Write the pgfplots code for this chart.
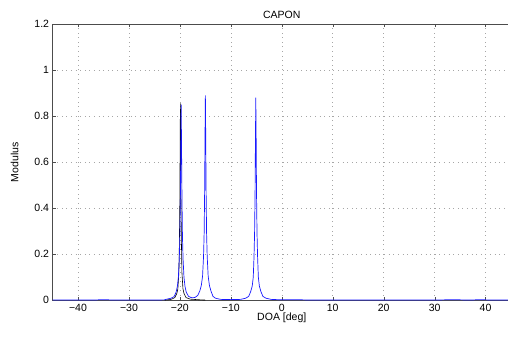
\documentclass[border=0pt]{standalone}
\usepackage{fontspec}
\setmainfont{Liberation Sans}
\usepackage{pgfplots}
\pgfplotsset{compat=1.18}
\usetikzlibrary{calc}
\begin{document}
\begin{tikzpicture}
\begin{axis}[
  name=ax,
  scale only axis,
  width=458bp, height=276bp,
  xmin=-45, xmax=45, ymin=0, ymax=1.2,
  xtick={-40,-30,-20,-10,0,10,20,30,40},
  xticklabels={−40,−30,−20,−10,0,10,20,30,40},
  ytick={0,0.2,0.4,0.6,0.8,1,1.2},
  yticklabels={0,0.2,0.4,0.6,0.8,1,1.2},
  tick align=inside,
  tick pos=both,
  major tick length=3bp,
  grid=major,
  grid style={dash pattern=on 0.6bp off 4bp, gray!70, line width=0.5pt},
  axis line style={black!70, line width=0.5pt},
  tick style={black!70},
  title={CAPON},
  title style={yshift=-4bp},
  xlabel={DOA [deg]},
  ylabel={Modulus},
  xlabel style={yshift=5bp},
  ylabel style={yshift=9bp},
  ticklabel style={font=\fontsize{10.5bp}{12bp}\selectfont},
  label style={font=\fontsize{10.5bp}{12bp}\selectfont},
  title style={font=\fontsize{10.5bp}{12bp}\selectfont},
  /pgf/number format/assume math mode=true,
]
\addplot[black, line width=0.6pt] coordinates {
(-23,0.001) (-22.0,0.003) (-21.5,0.006) (-21.0,0.012) (-20.6,0.03) (-20.4,0.05) (-20.2,0.12) (-20.1,0.25) (-20.0,0.45) (-19.95,0.7) (-19.9,0.855)
(-19.85,0.7) (-19.8,0.45) (-19.7,0.25) (-19.6,0.12) (-19.4,0.05) (-19.2,0.03) (-18.8,0.012) (-18.0,0.005) (-16,0.002) (-15,0.001)
};
\addplot[blue!90!white, line width=0.7pt] coordinates {
(-45,0.001) (-37,0.001) (-36,0.002) (-34,0.002) (-33,0.001) (-25,0.001) (-23,0.002)
(-22.75,0.004) (-21.75,0.009) (-21.15,0.016) (-20.75,0.035) (-20.5,0.06) (-20.3,0.1)
(-20.12,0.18) (-20.0,0.28) (-19.9,0.46) (-19.82,0.68) (-19.75,0.85) (-19.68,0.68) (-19.6,0.46) (-19.5,0.28) (-19.38,0.18)
(-19.2,0.1) (-19.0,0.06) (-18.75,0.035) (-18.3,0.017) (-17.8,0.012) (-17.4,0.011) (-17.0,0.013)
(-16.5,0.021) (-16.1,0.04) (-15.8,0.064) (-15.55,0.105) (-15.36,0.19) (-15.24,0.29) (-15.14,0.48) (-15.07,0.71) (-15.0,0.89)
(-14.93,0.71) (-14.86,0.48) (-14.76,0.29) (-14.64,0.19) (-14.45,0.105) (-14.2,0.064) (-13.9,0.04) (-13.5,0.017) (-13.0,0.009) (-12,0.004) (-10,0.003)
(-8.1,0.004) (-7.1,0.009) (-6.5,0.017) (-6.1,0.038) (-5.8,0.062) (-5.6,0.1) (-5.45,0.19) (-5.34,0.29) (-5.24,0.47) (-5.17,0.70) (-5.1,0.88)
(-5.03,0.70) (-4.96,0.47) (-4.86,0.29) (-4.75,0.19) (-4.6,0.1) (-4.4,0.062) (-4.1,0.038) (-3.7,0.017) (-3.1,0.009) (-2.1,0.004) (0,0.002)
(4,0.002) (6,0.001) (30,0.001) (32,0.002) (35,0.002) (37,0.001) (38,0.002) (40,0.002) (41,0.001) (45,0.001)
};
\end{axis}
\pgfresetboundingbox
\path[use as bounding box] ($(ax.south west)+(-52.5bp,-36bp)$) rectangle ($(ax.north east)+(-3bp,24bp)$);
\end{tikzpicture}
\end{document}
